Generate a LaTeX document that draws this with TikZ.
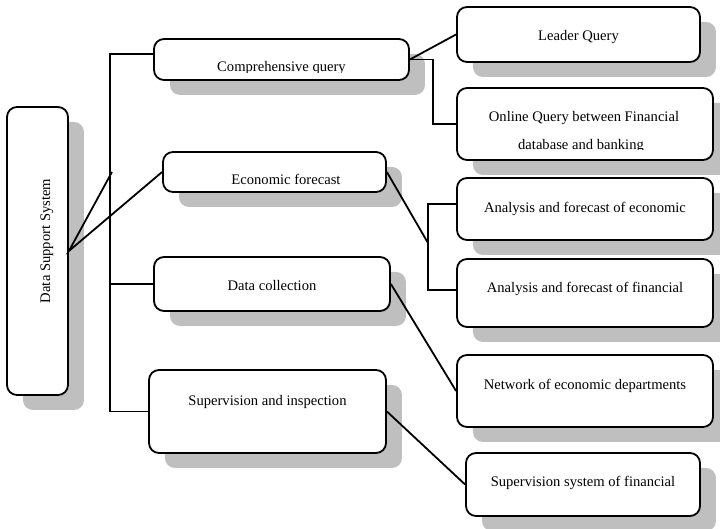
\documentclass[tikz,border=0pt]{standalone}
\usepackage{fontspec}
\setmainfont{Liberation Serif}
\usepackage{xcolor}
\usepackage{tikz}
\usetikzlibrary{positioning, calc, shadows}
\definecolor{ink}{RGB}{0,0,0}
\definecolor{haze}{RGB}{191,191,191}

\begin{document}
\begin{tikzpicture}[
  x=0.5pt, y=0.5pt,
  box/.style={rectangle, rounded corners=5pt, draw=ink, line width=0.9pt,
              fill=white, inner sep=0pt, text height=5pt, text depth=1.5pt,
              drop shadow={shadow xshift=8pt, shadow yshift=-7.5pt,
                           fill=haze, opacity=1},
              font=\fontsize{7.3}{8}\selectfont},
  lnk/.style={draw=ink, line width=0.9pt},
  cut/.style={anchor=base, inner sep=0pt, draw=none, fill=none,
              font=\fontsize{7.3}{8}\selectfont}]
  \useasboundingbox (0,0) rectangle (720,529);
  \node[box, rotate=90, minimum width=144pt, minimum height=30.5pt,
        text height=14pt] (dss) at (37.5,278) {\hspace*{10pt}Data Support System};
  \node[box, minimum width=127.5pt, minimum height=20.5pt,
        path picture={
          \clip ([yshift=3.75pt]path picture bounding box.south west)
            rectangle (path picture bounding box.north east);
          \node[cut] (compt) at ([yshift=4pt]path picture bounding box.south)
            {Comprehensive query};}] (comp) at (281.5,469.5) {};
  \node[box, minimum width=111.5pt, minimum height=20pt,
        path picture={
          \clip ([yshift=3.85pt]path picture bounding box.south west)
            rectangle (path picture bounding box.north east);
          \node[cut] (econt) at ([xshift=5.75pt, yshift=3.85pt]path picture bounding box.south)
            {Economic forecast};}] (econ) at (274.5,357) {};
  \node[box, minimum width=118pt, minimum height=27pt,
        text height=8pt] (coll) at (272,245) {Data collection};
  \node[box, minimum width=118.5pt, minimum height=41.5pt,
        text depth=11pt] (insp) at (267.5,117.5) {Supervision and inspection};
  \node[box, minimum width=121.5pt, minimum height=27.5pt,
        text height=7.5pt] (leader) at (578.5,494.5) {Leader Query};
  \node[box, minimum width=128pt, minimum height=36pt,
        path picture={
          \clip ([yshift=5.35pt]path picture bounding box.south west)
            rectangle (path picture bounding box.north east);
          \node[cut] (onlinea) at ([xshift=-0.5pt, yshift=19.15pt]path picture bounding box.south)
            {Online Query between Financial};
          \node[cut] (onlineb) at ([xshift=-2pt, yshift=5pt]path picture bounding box.south)
            {database and banking};}] (online) at (585,405) {};
  \node[box, minimum width=128pt, minimum height=31pt] (anaeco) at (585,320)
    {Analysis and forecast of economic};
  \node[box, minimum width=128pt, minimum height=34pt,
        text depth=5.5pt] (anafin) at (585,236) {Analysis and forecast of financial};
  \node[box, minimum width=128pt, minimum height=36pt,
        text depth=6.5pt] (netw) at (585,138) {Network of economic departments};
  \node[box, minimum width=117pt, minimum height=31.5pt,
        text depth=3pt] (supsys) at (583,44.5) {Supervision system of financial};
  \coordinate (trunk) at (110,475);
  \coordinate (stub) at (112,357);
  \coordinate (fork) at (428,286);
  \draw[lnk] (trunk -| comp.west) -- (trunk) |- (insp.west);
  \draw[lnk] (coll.west) -- (coll.west -| trunk);
  \draw[lnk] (stub) -- (dss.south) -- (econ.west);
  \draw[lnk] (comp.east) -- (leader.west);
  \draw[lnk] (comp.east) -- ++(23,0) |- (online.west);
  \draw[lnk] (econ.east) -- (fork);
  \draw[lnk] ([yshift=2.5pt]anaeco.west) -| (fork) |- ([yshift=1.5pt]anafin.west);
  \draw[lnk] (coll.east) -- (netw.west);
  \draw[lnk] (insp.east) -- (supsys.west);
\end{tikzpicture}
\end{document}
